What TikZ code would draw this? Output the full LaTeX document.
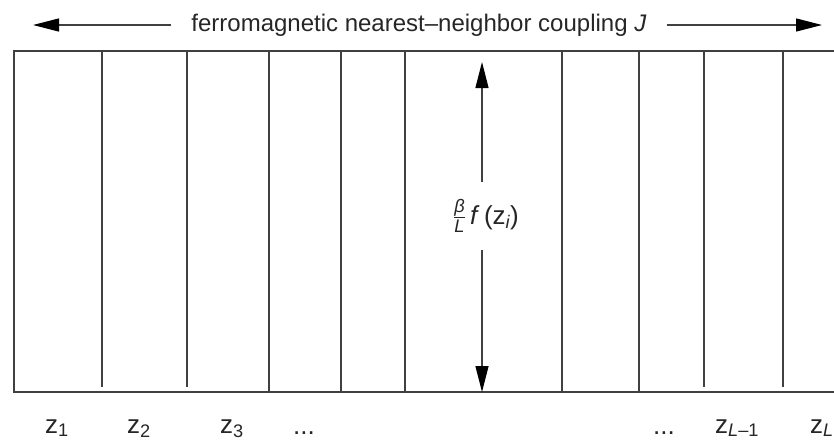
\documentclass[tikz,border=0pt]{standalone}
\usepackage{fontspec}
\setmainfont{Liberation Sans}
\usepackage{amsmath}
\usetikzlibrary{arrows.meta}
\definecolor{grigio}{HTML}{404040}

\begin{document}
\begin{tikzpicture}[x=1pt,y=-1pt,
        every node/.style={font=\fontsize{26}{28}\selectfont, text=black!85},
        linea/.style={line width=1.5pt, color=grigio},
        freccia/.style={line width=1.3pt, color=grigio,
            -{Triangle[length=26pt,width=13pt,color=black]}}]
    \useasboundingbox (0,0) rectangle (834,445);
    % Dimensioni: bordo sinistro, alto, basso, destro
    \def\xl{14} \def\yt{51} \def\yb{392} \def\xr{834}

    % Cornice
    \draw[linea] (\xr,\yt) -- (\xl,\yt) -- (\xl,\yb) -- (\xr,\yb);

    % Linee verticali
    \foreach \x in {269,341,405,562,639}
        \draw[linea] (\x,\yt) -- (\x,\yb);
    \foreach \x in {102,187,704,783}
        \draw[linea] (\x,\yt) -- (\x,\yb-5);

    % Accoppiamento
    \node[inner xsep=20pt, font=\fontsize{24}{26}\selectfont] (coup) at (419,25)
        {ferromagnetic nearest–neighbor coupling \textit{J}};
    \coordinate (sx) at (33,25);
    \coordinate (dx) at (822,25);
    \draw[freccia] (coup) -- (sx);
    \draw[freccia] (coup) -- (dx);

    % Campo esterno
    \coordinate (vtop) at (482,62);
    \coordinate (vbot) at (482,392);
    \node[minimum height=68pt, inner sep=0pt] (fz) at (486,216)
        {$\frac{\text{\itshape β}}{\text{\itshape L}}$\,\textit{f}\,(z\textsubscript{\itshape i})};
    \draw[freccia] (fz.north -| vtop) -- (vtop);
    \draw[freccia] (fz.south -| vbot) -- (vbot);

    % Etichette
    \foreach \x/\s/\n in {45/1/z1, 127/2/z2, 220/3/z3,
            715/{\textit{L}–1}/zLm, 810/\textit{L}/zL}
        \node[anchor=base west, inner sep=0pt] (\n) at (\x,433) {z\textsubscript{\s}};
    \node[anchor=base west, inner sep=0pt] (dl) at (293,434) {...};
    \node[anchor=base west, inner sep=0pt] (dr) at (653,434) {...};
\end{tikzpicture}
\end{document}
